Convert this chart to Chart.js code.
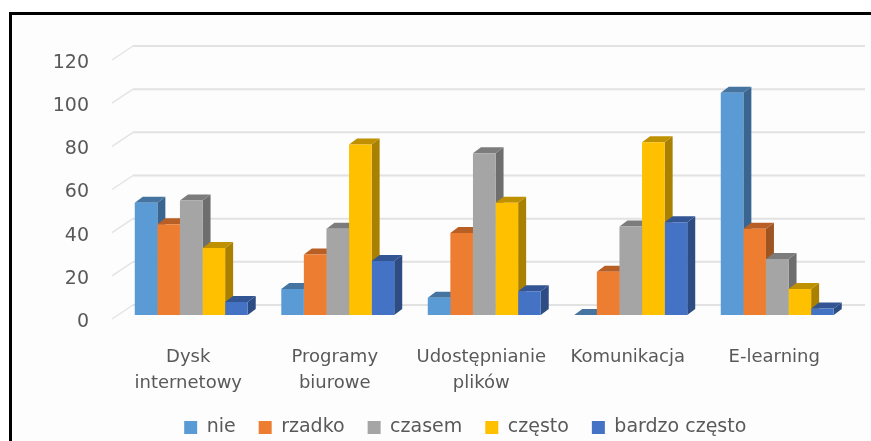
<!DOCTYPE html>
<html lang="pl">
<head>
<meta charset="utf-8">
<title>Wykres</title>
<script src="https://cdn.jsdelivr.net/npm/chart.js@4"></script>
<style>
    html, body { margin: 0; padding: 0; background: #ffffff; }
    #frame {
        position: absolute; left: 9px; top: 12px; width: 862px; height: 429px;
        border-top: 3px solid #000000; border-left: 3px solid #000000;
        box-sizing: border-box; background: #fdfdfd;
    }
    #chart { position: absolute; left: 0; top: 0; filter: blur(0.4px); }
</style>
</head>
<body>
<div id="frame"></div>
<canvas id="chart" width="871" height="441" style="width:871px;height:441px"></canvas>
<script>
var categories = [['Dysk', 'internetowy'], ['Programy', 'biurowe'], ['Udostępnianie', 'plików'], 'Komunikacja', 'E-learning'];
var seriesNames = ['nie', 'rzadko', 'czasem', 'często', 'bardzo często'];

var nie = [52, 12, 8, 0, 103];
var rzadko = [42, 28, 38, 20, 40];
var czasem = [53, 40, 75, 41, 26];
var czesto = [31, 79, 52, 80, 12];
var bardzoCzesto = [6, 25, 11, 43, 3];
var seriesValues = [nie, rzadko, czasem, czesto, bardzoCzesto];

var frontColors = ['#5b9bd5', '#ed7d31', '#a5a5a5', '#ffc000', '#4472c4'];
var sideColors = ['#3a6590', '#9e5521', '#6e6e6e', '#a98000', '#2d4c83'];
var topColors = ['#44749f', '#b85f25', '#7c7c7c', '#bf9000', '#335593'];

var textFont = 'DejaVu Sans';
var textColor = '#595959';

function drawFace(ctx, points, color) {
    ctx.fillStyle = color;
    ctx.beginPath();
    ctx.moveTo(points[0][0], points[0][1]);
    for (var i = 1; i < points.length; i++) {
        ctx.lineTo(points[i][0], points[i][1]);
    }
    ctx.closePath();
    ctx.fill();
}

// no 3d mode in the library: wall lines and bar side/top faces go under the fronts
var depthPlugin = {
    id: 'depth',
    beforeDatasetsDraw: function (chart) {
        var ctx = chart.ctx;
        var scale = chart.scales.y;
        var dx = 8, dy = 6;

        scale.ticks.forEach(function (tick) {
            var y = scale.getPixelForValue(tick.value);
            ctx.lineWidth = 1.5;
            ctx.strokeStyle = '#e4e4e4';
            ctx.beginPath();
            ctx.moveTo(112, y + 4);
            ctx.lineTo(133, y - 10);
            ctx.stroke();
            ctx.lineWidth = 2;
            ctx.strokeStyle = '#e2e2e2';
            ctx.beginPath();
            ctx.moveTo(133, y - 10);
            ctx.lineTo(865, y - 10);
            ctx.stroke();
        });

        chart.data.datasets.forEach(function (dataset, index) {
            chart.getDatasetMeta(index).data.forEach(function (bar) {
                var p = bar.getProps(['x', 'y', 'base', 'width'], true);
                var left = p.x - p.width / 2;
                var right = p.x + p.width / 2;
                drawFace(ctx, [[right, p.y], [right + dx, p.y - dy], [right + dx, p.base - dy], [right, p.base]], sideColors[index]);
                drawFace(ctx, [[left, p.y], [left + dx, p.y - dy], [right + dx, p.y - dy], [right, p.y]], topColors[index]);
            });
        });
    }
};

var legendShift = {
    id: 'legendShift',
    afterLayout: function (chart) {
        chart.legend.left += 40;
        chart.legend.right += 40;
    }
};

var datasets = seriesValues.map(function (values, i) {
    return {
        label: seriesNames[i],
        data: values,
        backgroundColor: frontColors[i],
        borderWidth: 0
    };
});

new Chart(document.getElementById('chart'), {
    type: 'bar',
    data: { labels: categories, datasets: datasets },
    plugins: [depthPlugin, legendShift],
    options: {
        responsive: false,
        animation: false,
        devicePixelRatio: 1,
        layout: { padding: { left: 0, right: 20.5, top: 56, bottom: -6 } },
        datasets: { bar: { barPercentage: 1, categoryPercentage: 0.771 } },
        plugins: {
            tooltip: { enabled: false },
            legend: {
                position: 'bottom',
                labels: {
                    boxWidth: 13,
                    boxHeight: 13,
                    padding: 23,
                    color: textColor,
                    font: { family: textFont, size: 19 }
                }
            }
        },
        scales: {
            x: {
                grid: { display: false, drawTicks: false },
                border: { display: false },
                afterFit: function (axis) { axis.height = 80; },
                ticks: {
                    autoSkip: false,
                    maxRotation: 0,
                    padding: 29,
                    labelOffset: -3,
                    color: textColor,
                    font: { family: textFont, size: 18, lineHeight: 1.45 }
                }
            },
            y: {
                min: 0,
                max: 120,
                grid: { display: false, drawTicks: false },
                border: { display: false },
                afterFit: function (axis) { axis.width = 118; },
                ticks: {
                    stepSize: 20,
                    padding: 29,
                    labelOffset: 7,
                    color: textColor,
                    font: { family: textFont, size: 19 }
                }
            }
        }
    }
});
</script>
</body>
</html>
